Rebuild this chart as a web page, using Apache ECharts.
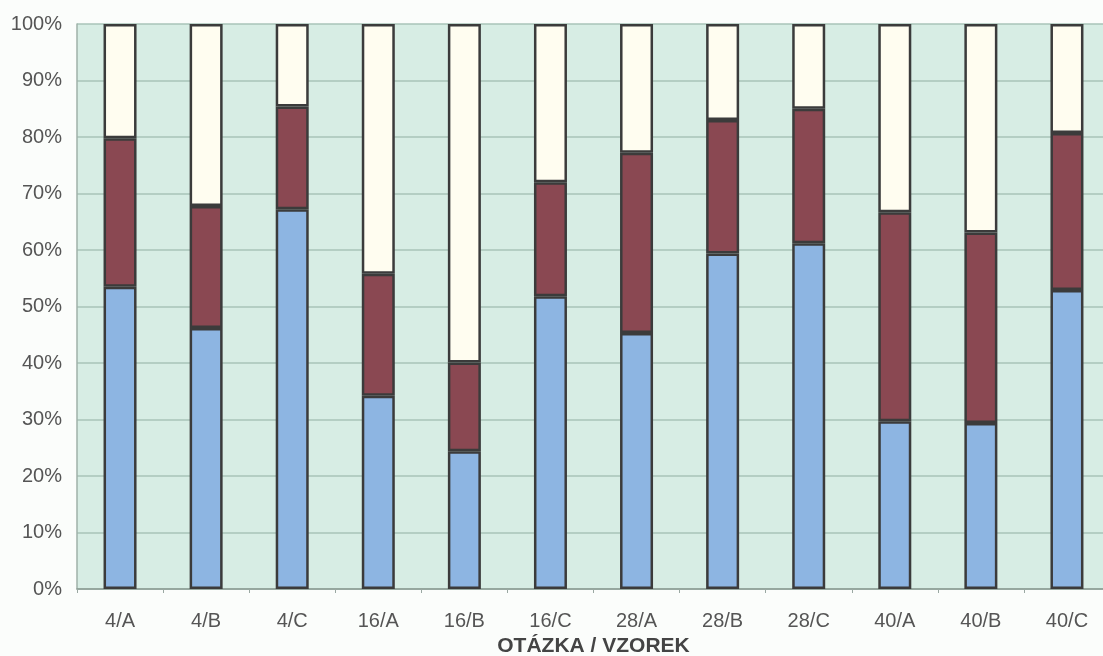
<!DOCTYPE html>
<html>
<head>
<meta charset="utf-8">
<script src="https://cdn.jsdelivr.net/npm/echarts@6/dist/echarts.min.js"></script>
<style>
  html, body { margin: 0; padding: 0; background: #fbfdfb; }
  #chart { width: 1103px; height: 656px; }
</style>
</head>
<body>
<div id="chart"></div>
<script>
// Samples per question / respondent group
const categories = ['4/A', '4/B', '4/C', '16/A', '16/B', '16/C', '28/A', '28/B', '28/C', '40/A', '40/B', '40/C'];

// Shares of answers (percent), stacked bottom to top
const seriesBlue   = [53.5, 46.2, 67.2, 34.2, 24.4, 51.8, 45.3, 59.4, 61.2, 29.7, 29.4, 52.9];
const seriesMaroon = [26.3, 21.6, 18.2, 21.6, 15.7, 20.2, 31.9, 23.6, 23.8, 37.0, 33.7, 27.8];
const seriesCream  = [20.2, 32.2, 14.6, 44.2, 59.9, 28.0, 22.8, 17.0, 15.0, 33.3, 36.9, 19.3];

const yTicks = [0, 10, 20, 30, 40, 50, 60, 70, 80, 90, 100];
const xAxisTitle = 'OTÁZKA / VZOREK';

const chart = echarts.init(document.getElementById('chart'), null, { renderer: 'canvas' });

const FONT = 'Liberation Sans, Arial, sans-serif';
const barBase = {
  type: 'bar',
  stack: 'total',
  barWidth: 33,
  itemStyle: { borderColor: '#3b3b3b', borderWidth: 2.5 }
};

chart.setOption({
  animation: false,
  backgroundColor: '#fbfdfb',
  grid: {
    left: 77, top: 24, width: 1033, bottom: 67,
    outerBoundsMode: 'none',
    show: true, backgroundColor: '#d7ede4', borderWidth: 0
  },
  xAxis: {
    type: 'category',
    data: categories,
    axisLine: { show: true, lineStyle: { color: '#8a9a92', width: 1.5 } },
    axisTick: { show: true, length: 4, lineStyle: { color: '#9aa8a2' } },
    axisLabel: { color: '#555', fontSize: 20, fontFamily: FONT, margin: 22 },
    name: xAxisTitle,
    nameLocation: 'middle',
    nameGap: 45,
    nameTextStyle: { color: '#444', fontSize: 21, fontWeight: 'bold', fontFamily: FONT }
  },
  yAxis: {
    type: 'value',
    min: 0, max: 100, interval: 10,
    axisLine: { show: true, lineStyle: { color: '#9fb1a8', width: 1.5 } },
    axisTick: { show: false },
    splitLine: { lineStyle: { color: '#a9c3b8', width: 1.5 } },
    axisLabel: {
      color: '#555', fontSize: 20, fontFamily: FONT, margin: 15,
      formatter: v => (yTicks.includes(v) ? v + '%' : '')
    }
  },
  series: [
    Object.assign({}, barBase, { name: 'A', data: seriesBlue,   itemStyle: Object.assign({}, barBase.itemStyle, { color: '#8db5e2' }) }),
    Object.assign({}, barBase, { name: 'B', data: seriesMaroon, itemStyle: Object.assign({}, barBase.itemStyle, { color: '#8a4852' }) }),
    Object.assign({}, barBase, { name: 'C', data: seriesCream,  itemStyle: Object.assign({}, barBase.itemStyle, { color: '#fffdf0' }) })
  ]
});
</script>
</body>
</html>
